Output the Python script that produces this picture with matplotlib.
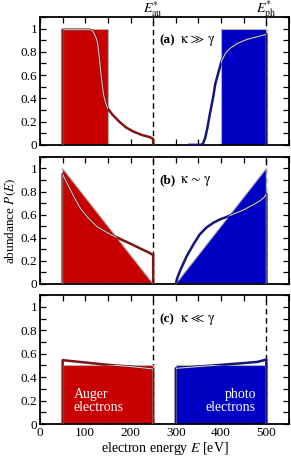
import matplotlib
matplotlib.use('Agg')
import matplotlib.pyplot as plt
from matplotlib.ticker import MultipleLocator, FuncFormatter

plt.rcParams['font.family'] = ['Liberation Serif', 'DejaVu Serif']
plt.rcParams['mathtext.fontset'] = 'stix'
plt.rcParams['font.size'] = 9

# ---------------- data ----------------
# panel (a)  kappa >> gamma
a_aug_fill_x = [50, 50, 150, 150]
a_aug_fill_y = [0, 1, 1, 0]
a_ph_fill_x = [400, 400, 500, 500]
a_ph_fill_y = [0, 1, 1, 0]
a_aug_x = [50, 50, 80, 110, 115, 119, 123, 127, 131, 135, 138, 141, 145, 150, 160, 175, 190, 206, 225, 243, 250, 250]
a_aug_y = [0, 0.99, 0.99, 0.99, 0.985, 0.96, 0.93, 0.88, 0.75, 0.6, 0.5, 0.42, 0.36, 0.31, 0.26, 0.2, 0.15, 0.115, 0.085, 0.066, 0.05, 0]
a_ph_x = [330, 355, 360, 365, 370, 375, 380, 383, 387, 394, 401, 410, 420, 435, 456, 480, 500, 500]
a_ph_y = [0, 0, 0.01, 0.06, 0.15, 0.26, 0.36, 0.42, 0.52, 0.62, 0.72, 0.79, 0.83, 0.87, 0.905, 0.93, 0.95, 0]

# panel (b)  kappa ~ gamma
b_aug_fill_x = [50, 50, 250]
b_aug_fill_y = [0, 1, 0]
b_ph_fill_x = [300, 500, 500]
b_ph_fill_y = [0, 1, 0]
b_aug_x = [50, 50, 60, 77, 90, 107, 125, 144, 160, 169, 185, 202, 220, 239, 248, 250, 250]
b_aug_y = [0, 0.95, 0.87, 0.74, 0.65, 0.57, 0.5, 0.455, 0.42, 0.405, 0.375, 0.345, 0.31, 0.275, 0.255, 0.25, 0]
b_ph_x = [300, 303, 310, 324, 340, 353, 368, 383, 398, 412, 430, 449, 468, 486, 495, 500, 500]
b_ph_y = [0, 0.05, 0.12, 0.24, 0.35, 0.43, 0.49, 0.53, 0.56, 0.58, 0.61, 0.64, 0.68, 0.72, 0.75, 0.78, 0]

# panel (c)  kappa << gamma
c_aug_fill_x = [50, 50, 250, 250]
c_aug_fill_y = [0, 0.5, 0.5, 0]
c_ph_fill_x = [300, 300, 500, 500]
c_ph_fill_y = [0, 0.5, 0.5, 0]
c_aug_x = [50, 50, 100, 150, 200, 250, 250]
c_aug_y = [0, 0.545, 0.525, 0.505, 0.49, 0.47, 0]
c_ph_x = [300, 300, 350, 400, 450, 480, 500, 500]
c_ph_y = [0, 0.475, 0.49, 0.505, 0.52, 0.53, 0.55, 0]

panel_tags = ['(a)', '(b)', '(c)']
panel_rel = [r'$\mathrm{\kappa}\,\gg\,\mathrm{\gamma}$',
             r'$\mathrm{\kappa}\,\sim\,\mathrm{\gamma}$',
             r'$\mathrm{\kappa}\,\ll\,\mathrm{\gamma}$']
x_ticks = [0, 100, 200, 300, 400, 500]
y_ticks = [0, 0.2, 0.4, 0.6, 0.8, 1.0]
e_au, e_ph = 250, 500

panels = [
    (a_aug_fill_x, a_aug_fill_y, a_ph_fill_x, a_ph_fill_y, a_aug_x, a_aug_y, a_ph_x, a_ph_y),
    (b_aug_fill_x, b_aug_fill_y, b_ph_fill_x, b_ph_fill_y, b_aug_x, b_aug_y, b_ph_x, b_ph_y),
    (c_aug_fill_x, c_aug_fill_y, c_ph_fill_x, c_ph_fill_y, c_aug_x, c_aug_y, c_ph_x, c_ph_y),
]

RED = '#c80000'
BLUE = '#0000c4'
DRED = '#7e1414'
DBLUE = '#14147e'
EDGE = '#b4b4b4'
LIGHT = '#d6d6d6'

fig = plt.figure(figsize=(2.91, 4.57), dpi=100)
positions = [[0.1375, 0.683, 0.8555, 0.280],
             [0.1375, 0.3786, 0.8555, 0.278],
             [0.1375, 0.0722, 0.8555, 0.282]]

def yfmt(v, pos):
    if abs(v) < 1e-9:
        return '0'
    if abs(v - 1) < 1e-9:
        return '1'
    return f'{v:.1f}'

axes = []
for i, (pos, data) in enumerate(zip(positions, panels)):
    ax = fig.add_axes(pos)
    axes.append(ax)
    afx, afy, pfx, pfy, ax_x, ax_y, px_x, px_y = data
    for xv in (e_au, e_ph):
        ax.axvline(xv, color='k', lw=1.0, ls=(0, (4, 2.6)), zorder=1)
    pa = ax.fill(afx, afy, facecolor=RED, edgecolor=EDGE, lw=0.8, zorder=2)[0]
    pp = ax.fill(pfx, pfy, facecolor=BLUE, edgecolor=EDGE, lw=0.8, zorder=2)[0]
    ax.plot(ax_x, ax_y, color=DRED, lw=1.8, zorder=3, solid_joinstyle='round')
    l1, = ax.plot(ax_x, ax_y, color=LIGHT, lw=0.7, zorder=4, solid_joinstyle='round')
    l1.set_clip_path(pa)
    ax.plot(px_x, px_y, color=DBLUE, lw=1.8, zorder=3, solid_joinstyle='round')
    l2, = ax.plot(px_x, px_y, color=LIGHT, lw=0.7, zorder=4, solid_joinstyle='round')
    l2.set_clip_path(pp)

    ax.set_xlim(0, 550)
    ax.set_ylim(0, 1.1)
    ax.set_xticks(x_ticks)
    ax.xaxis.set_minor_locator(MultipleLocator(50))
    ax.set_yticks(y_ticks)
    ax.yaxis.set_minor_locator(MultipleLocator(0.1))
    ax.yaxis.set_major_formatter(FuncFormatter(yfmt))
    ax.tick_params(which='both', direction='in', top=True, right=True,
                   length=4, width=0.9, labelsize=9.5, pad=2)
    for s in ax.spines.values():
        s.set_linewidth(1.3)
    if i < 2:
        ax.set_xticklabels([])
    ax.text(263, 0.895, panel_tags[i], ha='left', va='center', fontsize=9.5,
            fontweight='bold')
    ax.annotate(panel_rel[i], xy=(263, 0.895), xycoords='data',
                xytext=(15, 0), textcoords='offset points', ha='left', va='center',
                fontsize=10)

axes[0].annotate(r'$E^{*}_{\mathrm{au}}$', xy=(e_au, 1), xycoords=('data', 'axes fraction'),
                 xytext=(0, 2.5), textcoords='offset points', ha='center', va='baseline', fontsize=10)
axes[0].annotate(r'$E^{*}_{\mathrm{ph}}$', xy=(e_ph, 1), xycoords=('data', 'axes fraction'),
                 xytext=(0, 2.5), textcoords='offset points', ha='center', va='baseline', fontsize=10)

axes[1].set_ylabel('abundance $P(E)$', fontsize=9.5, labelpad=2)
axes[2].set_xlabel('electron energy $E$ [eV]', fontsize=10, labelpad=1)

axes[2].text(75, 0.2, 'Auger\nelectrons', color='white', ha='left', va='center',
             fontsize=10, linespacing=1.0)
axes[2].text(477, 0.2, 'photo\nelectrons', color='white', ha='right', va='center',
             fontsize=10, linespacing=1.0)

fig.savefig('out.png', dpi=100)
